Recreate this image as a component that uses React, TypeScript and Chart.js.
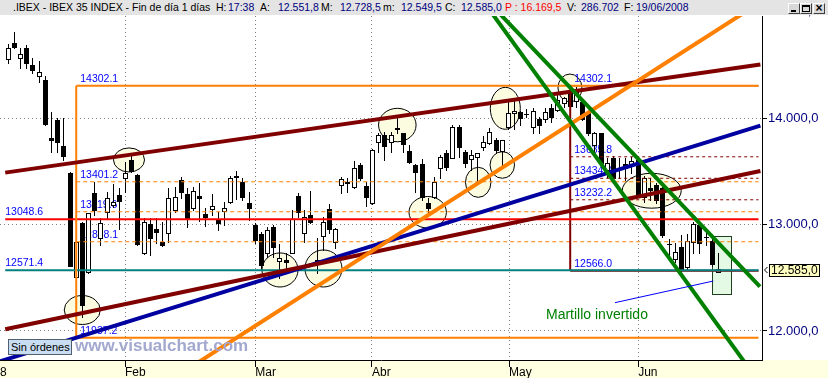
import React, { useEffect, useRef } from 'react';
import { Chart, registerables } from 'chart.js';

Chart.register(...registerables);

// ---------- daily candles (index 0 = first session shown, Jan 2008) ----------
const opens = [
  14551, 14707, 14566, 14660, 14498, 14394, 14357, 13815, 13981, 13740,
  13481, 12504, 13017, 12551, 13293, 12876, 13115, 13183, 13277, 13439,
  13606, 13465, 12730, 13002, 12958, 12833, 12917, 13136, 13418, 13284,
  13152, 13268, 13096, 13143, 13052, 13130, 13214, 13449, 13402, 13199,
  12995, 12911, 12730, 12979, 12660, 12667, 12735, 13268, 12917, 13089,
  12667, 12892, 13145, 12838, 13371, 13387, 13349, 13559, 13361, 13199,
  13777, 13840, 13777, 13906, 13856, 13690, 13559, 13565, 13205, 13261,
  13528, 13674, 13627, 13918, 13684, 13612, 13631, 13725, 13762, 13793,
  13693, 13913, 14044, 14059, 14038, 13915, 13992, 13991, 14097, 14075,
  14138, 14263, 14162, 14153, 14050, 13746, 13856, 13512, 13629, 13531,
  13565, 13565, 13610, 13261, 13343, 13371, 13340, 12819, 12679, 12784,
  12601, 12838, 12995, 12884, 12842, 12551.8,
];
const highs = [
  14692, 14805, 14657, 14683, 14561, 14535, 14394, 14059, 14003, 14003,
  13496, 12908, 13026, 13110, 13402, 13064, 13302, 13377, 13340, 13590,
  13659, 13470, 13064, 13064, 13058, 13026, 13340, 13355, 13449, 13340,
  13355, 13392, 13152, 13286, 13120, 13214, 13455, 13502, 13434, 13308,
  13011, 12932, 12979, 12995, 12817, 12730, 13136, 13293, 13136, 13317,
  12876, 13073, 13192, 12964, 13449, 13434, 13596, 13575, 13402, 13709,
  13856, 13871, 13871, 14019, 13859, 13746, 13568, 13612, 13246, 13443,
  13653, 13700, 13934, 13934, 13700, 13700, 13671, 13831, 13903, 13809,
  13798, 14164, 14164, 14069, 14082, 14091, 14012, 14091, 14131, 14232,
  14200, 14302.1, 14294, 14162, 14059, 13871, 13862, 13622, 13643, 13624,
  13622, 13631, 13622, 13455, 13434, 13392, 13371, 12868, 12823, 12901,
  12911, 13026, 13026, 12917, 12870, 12728.5,
];
const lows = [
  14519, 14657, 14467, 14472, 14420, 14341, 13934, 13684, 13684, 13606,
  12610, 11937.2, 12134, 12545, 13089, 12807, 13058, 13167, 12958, 13308,
  13490, 12805, 12720, 12714, 12823, 12800, 12838, 13120, 13246, 12979,
  13136, 13036, 12986, 13089, 12948, 12995, 13199, 13237, 13230, 13042,
  12823, 12579, 12698, 12698, 12495, 12573, 12730, 13073, 12838, 13015,
  12542, 12761, 12917, 12782, 13299, 13308, 13340, 13418, 13174, 13192,
  13684, 13606, 13684, 13856, 13684, 13575, 13308, 13230, 13105, 13246,
  13434, 13512, 13622, 13637, 13543, 13512, 13402, 13700, 13756, 13669,
  13559, 13894, 13897, 13934, 14007, 13859, 13859, 13965, 13965, 14066,
  14106, 14091, 14100, 13981, 13840, 13669, 13568, 13449, 13434, 13437,
  13418, 13484, 13277, 13214, 13230, 13205, 12885, 12690, 12651, 12568,
  12579, 12730, 12735, 12807, 12610, 12549.5,
];
const closes = [
  14660, 14664, 14598, 14519, 14451, 14435, 13941, 13793, 13772, 13646,
  12613, 12833, 12244, 13105, 13136, 13017, 13246, 13214, 13223, 13486,
  13502, 12814, 13026, 12876, 12927, 12807, 13246, 13261, 13308, 13064,
  13315, 13252, 13073, 13174, 13011, 13152, 13434, 13455, 13261, 13158,
  12854, 12620, 12948, 12791, 12683, 12645, 13049, 13120, 13068, 13021,
  12645, 13026, 12955, 12955, 13427, 13402, 13533, 13434, 13261, 13700,
  13840, 13737, 13840, 13901, 13756, 13590, 13496, 13261, 13152, 13402,
  13631, 13543, 13918, 13731, 13580, 13653, 13669, 13772, 13871, 13700,
  13793, 14050, 14070, 14000, 14033, 14069, 13934, 14056, 14009, 14169,
  14185, 14113, 14247, 13988, 13856, 13856, 13575, 13575, 13437, 13526,
  13531, 13596, 13286, 13434, 13324, 13230, 12901, 12814, 12745, 12582,
  12848, 13000, 12823, 12881, 12626, 12585.0,
];

// ---------- axes ----------
const xMin = -1.344;
const xMax = 122.06;
const yMin = 11727.6;
const yMax = 14957.8;
const monthTickIndex = [-1.344, 18.9, 40, 58.9, 81.1, 102];
const monthTickLabels = ['8', 'Feb', 'Mar', 'Abr', 'May', 'Jun'];
const yTickValues = [12000, 13000, 14000];
const hiddenTopTick = 15000;

// ---------- horizontal levels ----------
const levelEnd = 121.5;
const fibOneStart = 11;
const fibOneLevels = [14302.1, 13401.2, 13119.6, 12838.1, 11937.2];
const fibOneLabels = ['14302.1', '13401.2', '13119.6', '12838.1', '11937.2'];
const fibTwoStart = 91;
const fibTwoLevels = [14302.1, 13635.8, 13434.0, 13232.2, 12566.0];
const fibTwoLabels = ['14302.1', '13635.8', '13434.0', '13232.2', '12566.0'];
const supportStart = -0.5;
const supportLevels = [13048.6, 12571.4];
const supportLabels = ['13048.6', '12571.4'];

// ---------- trend lines: [idx1, val1, idx2, val2, fromIdx, toIdx] ----------
const blueTrend = [11, 11937.2, 116.87, 13840, -1.5, 121.8];
const brownLowerTrend = [-0.5, 12016, 122, 13504, -0.5, 121.8];
const brownUpperTrend = [-0.5, 13487, 122, 14505, -0.5, 121.8];
const orangeTrend = [44, 12197, 118.34, 14958, 30, 121.8];
const greenTrendA = [78.65, 14958, 118.98, 11728, 70, 121.8];
const greenTrendB = [79.79, 14967, 121.73, 12416, 70, 121.73];
const pointerLine = [98.25, 12266, 114.17, 12469];

// ---------- circled zones ----------
const ellipseIdx = [19.55, 11.98, 44.0, 51.04, 63.0, 67.92, 76.1, 80.0, 80.49, 90.96, 104.2];
const ellipseVal = [13606, 12197, 12573, 12587, 13934, 13115, 13396, 13559, 14091, 14282, 13317];
const ellipseRadIdx = [2.51, 2.92, 2.92, 3.0, 3.04, 3.03, 2.06, 1.98, 2.43, 1.94, 4.78];
const ellipseRadVal = [113, 136, 160, 174, 157, 148, 141, 125, 197, 131, 164];

// ---------- pattern box + note ----------
const boxIdx = [114.0, 117.0];
const boxVal = [12347, 12892];
const noteText = 'Martillo invertido';
const noteIdx = 87.08;
const noteVal = 12117;

const ORANGE = '#ff8000';
const BROWN = '#800000';
const NAVY = '#000080';
const FONT = '"Liberation Sans", Arial, sans-serif';

function fmtEs(v: number): string {
  const fixed = Math.abs(v).toFixed(1);
  const [ip, dp] = fixed.split('.');
  return (v < 0 ? '-' : '') + ip.replace(/\B(?=(\d{3})+(?!\d))/g, '.') + ',' + dp;
}

const seg = (x1: number, y1: number, x2: number, y2: number) => [
  { x: x1, y: y1 },
  { x: x2, y: y2 },
];
const trendSeg = (t: number[]) => {
  const [i1, v1, i2, v2, from, to] = t;
  const k = (v2 - v1) / (i2 - i1);
  return seg(from, v1 + k * (from - i1), to, v1 + k * (to - i1));
};
const lineDs = (data: any[], color: string, width: number, dash: number[] = []) => ({
  type: 'line' as const,
  data,
  borderColor: color,
  borderWidth: width,
  borderDash: dash,
  pointRadius: 0,
  fill: false,
  tension: 0,
  clip: 0,
  borderCapStyle: 'butt' as const,
});

function buildDatasets() {
  const list: any[] = [];
  for (let k = 1; k <= 3; k++)
    list.push(lineDs(seg(fibOneStart, fibOneLevels[k], levelEnd, fibOneLevels[k]), ORANGE, 1, [4, 3]));
  for (let k = 1; k <= 3; k++)
    list.push(lineDs(seg(fibTwoStart, fibTwoLevels[k], levelEnd, fibTwoLevels[k]), BROWN, 1, [3, 3]));
  list.push(lineDs(seg(fibTwoStart, fibTwoLevels[0], levelEnd, fibTwoLevels[0]), BROWN, 1));
  list.push(lineDs(seg(fibTwoStart, fibTwoLevels[4], levelEnd, fibTwoLevels[4]), BROWN, 2));
  list.push(lineDs(seg(fibTwoStart, fibTwoLevels[4], fibTwoStart, fibTwoLevels[0]), BROWN, 2));
  list.push(lineDs(seg(supportStart, supportLevels[0], levelEnd, supportLevels[0]), '#ff0000', 2));
  list.push(lineDs(seg(supportStart, supportLevels[1], levelEnd, supportLevels[1]), '#008080', 2));
  list.push(lineDs(seg(fibOneStart, fibOneLevels[0], levelEnd, fibOneLevels[0]), ORANGE, 2));
  list.push(lineDs(seg(fibOneStart, fibOneLevels[4], levelEnd, fibOneLevels[4]), ORANGE, 2));
  list.push(lineDs(seg(fibOneStart, fibOneLevels[4], fibOneStart, fibOneLevels[0]), ORANGE, 2));
  list.push(lineDs(trendSeg(blueTrend), '#0000a0', 4));
  list.push(lineDs(trendSeg(brownLowerTrend), BROWN, 4));
  list.push(lineDs(trendSeg(brownUpperTrend), BROWN, 4));
  list.push(lineDs(trendSeg(orangeTrend), ORANGE, 4));
  list.push(lineDs(trendSeg(greenTrendA), '#008000', 4));
  list.push(lineDs(trendSeg(greenTrendB), '#008000', 4));
  list.push(lineDs(seg(pointerLine[0], pointerLine[1], pointerLine[2], pointerLine[3]), '#0000ff', 1));
  // list is bottom -> top; higher order is drawn first
  return list.map((d, i) => ({ ...d, order: list.length - i }));
}

const annotationPlugin = {
  id: 'ibexAnnotations',
  beforeDraw(chart: any) {
    const { ctx, width, height, chartArea } = chart;
    ctx.save();
    ctx.fillStyle = '#ffffff';
    ctx.fillRect(0, 0, width, height);
    ctx.fillStyle = '#ffffe1';
    ctx.fillRect(0, chartArea.bottom, width, height - chartArea.bottom);
    ctx.restore();
  },
  beforeDatasetsDraw(chart: any) {
    const { ctx, chartArea: a } = chart;
    const xs = chart.scales.x;
    const ys = chart.scales.y;
    const px = (v: number) => xs.getPixelForValue(v);
    const py = (v: number) => ys.getPixelForValue(v);
    ctx.save();
    ctx.beginPath();
    ctx.rect(a.left, a.top, a.right - a.left, a.bottom - a.top);
    ctx.clip();

    // circled zones
    ctx.lineWidth = 1;
    for (let k = 0; k < ellipseIdx.length; k++) {
      const cx = px(ellipseIdx[k]);
      const cy = py(ellipseVal[k]);
      const rx = px(ellipseIdx[k] + ellipseRadIdx[k]) - cx;
      const ry = cy - py(ellipseVal[k] + ellipseRadVal[k]);
      ctx.beginPath();
      ctx.ellipse(cx, cy, rx, ry, 0, 0, Math.PI * 2);
      ctx.fillStyle = '#fcfce0';
      ctx.fill();
      ctx.strokeStyle = '#000';
      ctx.stroke();
    }

    // pattern box
    {
      const x1 = Math.round(px(boxIdx[0]));
      const x2 = Math.round(px(boxIdx[1]));
      const y1 = Math.round(py(boxVal[1]));
      const y2 = Math.round(py(boxVal[0]));
      ctx.fillStyle = '#e4fae4';
      ctx.fillRect(x1, y1, x2 - x1, y2 - y1);
      ctx.strokeStyle = '#204020';
      ctx.strokeRect(x1 + 0.5, y1 + 0.5, x2 - x1, y2 - y1);
    }

    // level labels
    ctx.font = '10.5px ' + FONT;
    ctx.fillStyle = '#0000ff';
    ctx.textBaseline = 'alphabetic';
    ctx.textAlign = 'left';
    const drawLabels = (start: number, vals: number[], labels: string[], dx: number) => {
      for (let k = 0; k < vals.length; k++) ctx.fillText(labels[k], px(start) + dx, py(vals[k]) - 4);
    };
    drawLabels(fibOneStart, fibOneLevels, fibOneLabels, 4);
    drawLabels(fibTwoStart, fibTwoLevels, fibTwoLabels, 4);
    drawLabels(supportStart, supportLevels, supportLabels, 0);

    // candles
    for (let i = 0; i < opens.length; i++) {
      const o = opens[i];
      const c = closes[i];
      const col = Math.floor(px(i));
      const yh = Math.round(py(highs[i]));
      const yl = Math.round(py(lows[i]));
      const yt = Math.round(py(Math.max(o, c)));
      const yb = Math.round(py(Math.min(o, c)));
      ctx.fillStyle = '#000';
      ctx.fillRect(col, yh, 1, Math.max(1, yl - yh + 1));
      if (yb - yt <= 1) {
        ctx.fillRect(col - 2, yt, 5, yb - yt + 1);
      } else if (c > o) {
        ctx.fillStyle = '#fff';
        ctx.fillRect(col - 2, yt, 5, yb - yt + 1);
        ctx.strokeStyle = '#000';
        ctx.lineWidth = 1;
        ctx.strokeRect(col - 1.5, yt + 0.5, 4, yb - yt);
      } else {
        ctx.fillRect(col - 2, yt, 5, yb - yt + 1);
      }
    }
    ctx.restore();
  },
  afterDatasetsDraw(chart: any) {
    const { ctx } = chart;
    const xs = chart.scales.x;
    const ys = chart.scales.y;
    ctx.save();
    ctx.font = '14px ' + FONT;
    ctx.fillStyle = '#008000';
    ctx.textBaseline = 'alphabetic';
    ctx.textAlign = 'left';
    ctx.fillText(noteText, xs.getPixelForValue(noteIdx), ys.getPixelForValue(noteVal));
    ctx.restore();
  },
  afterDraw(chart: any) {
    const { ctx, chartArea } = chart;
    const ys = chart.scales.y;
    ctx.save();
    // partially hidden top tick label
    ctx.font = '13px ' + FONT;
    ctx.fillStyle = NAVY;
    ctx.textBaseline = 'middle';
    ctx.textAlign = 'left';
    ctx.fillText(fmtEs(hiddenTopTick), chartArea.right + 6, ys.getPixelForValue(hiddenTopTick));
    // last price marker
    const last = closes[closes.length - 1];
    const cy = Math.round(ys.getPixelForValue(last)) + 1;
    const bx = chartArea.right + 7;
    ctx.fillStyle = '#ffffc0';
    ctx.fillRect(bx, cy - 6, 51, 13);
    ctx.strokeStyle = '#000';
    ctx.lineWidth = 1;
    ctx.strokeRect(bx + 0.5, cy - 6 + 0.5, 50, 12);
    ctx.beginPath();
    ctx.moveTo(chartArea.right + 5.5, cy - 3);
    ctx.lineTo(chartArea.right + 2.5, cy);
    ctx.lineTo(chartArea.right + 5.5, cy + 3);
    ctx.stroke();
    ctx.font = '12px ' + FONT;
    ctx.fillStyle = '#000';
    ctx.fillText(fmtEs(last), bx + 2, cy + 0.5);
    ctx.restore();
  },
};

const titleParts: { x: number; t: string; c: string }[] = [
  { x: 13, t: '.IBEX - IBEX 35 INDEX - Fin de día 1 días', c: '#000' },
  { x: 216, t: 'H:', c: '#000' },
  { x: 228, t: '17:38', c: NAVY },
  { x: 260, t: 'A:', c: '#000' },
  { x: 278, t: '12.551,8', c: NAVY },
  { x: 321, t: 'M:', c: '#000' },
  { x: 340, t: '12.728,5', c: NAVY },
  { x: 383, t: 'm:', c: '#000' },
  { x: 401, t: '12.549,5', c: NAVY },
  { x: 445, t: 'C:', c: '#000' },
  { x: 461, t: '12.585,0', c: NAVY },
  { x: 505, t: 'P : 16.169,5', c: '#ff0000' },
  { x: 567, t: 'V:', c: '#000' },
  { x: 581, t: '286.702', c: NAVY },
  { x: 624, t: 'F:', c: '#000' },
  { x: 636, t: '19/06/2008', c: NAVY },
];

const btnStyle = (left: number): React.CSSProperties => ({
  position: 'absolute',
  left,
  top: 3,
  width: 12,
  height: 11,
  boxSizing: 'border-box',
  background: '#d8d8d8',
  borderTop: '1px solid #ffffff',
  borderLeft: '1px solid #ffffff',
  borderRight: '1px solid #404040',
  borderBottom: '1px solid #404040',
});

export default function App() {
  const ref = useRef<HTMLCanvasElement | null>(null);

  useEffect(() => {
    const canvas = ref.current;
    if (!canvas) return;
    const chart = new Chart(canvas, {
      type: 'line',
      data: { datasets: buildDatasets() },
      options: {
        responsive: false,
        animation: false,
        devicePixelRatio: 1,
        events: [],
        layout: { padding: { top: 16, left: 0, right: 0, bottom: 0 } },
        plugins: {
          legend: { display: false },
          tooltip: { enabled: false },
          title: { display: false },
        },
        scales: {
          x: {
            type: 'linear',
            min: xMin,
            max: xMax,
            bounds: 'data',
            offset: false,
            afterBuildTicks: (s: any) => {
              s.ticks = monthTickIndex.map((v) => ({ value: v }));
            },
            afterFit: (s: any) => {
              s.height = 18;
            },
            ticks: {
              callback: (_v: any, i: number) => monthTickLabels[i],
              align: 'start',
              maxRotation: 0,
              minRotation: 0,
              autoSkip: false,
              color: '#000',
              padding: -2,
              font: { family: FONT, size: 12 },
            },
            grid: {
              color: (c: any) => (c.tick && c.tick.value < 0 ? 'rgba(0,0,0,0)' : '#808080'),
              tickColor: (c: any) => (c.tick && c.tick.value < 0 ? 'rgba(0,0,0,0)' : '#000'),
              lineWidth: 1,
              tickLength: 7,
              tickBorderDash: [],
              drawTicks: true,
            },
            border: { display: true, color: '#000', width: 1, dash: [1, 3] },
          } as any,
          y: {
            type: 'linear',
            position: 'right',
            min: yMin,
            max: yMax,
            bounds: 'data',
            afterBuildTicks: (s: any) => {
              s.ticks = yTickValues.map((v) => ({ value: v }));
            },
            afterFit: (s: any) => {
              s.width = 66;
            },
            ticks: {
              callback: (v: any) => fmtEs(Number(v)),
              color: NAVY,
              padding: 1,
              font: { family: FONT, size: 13 },
            },
            grid: {
              color: '#808080',
              lineWidth: 1,
              tickColor: '#000',
              tickLength: 5,
              tickBorderDash: [],
            },
            border: { display: true, color: '#000', width: 1, dash: [1, 3] },
          } as any,
        },
      },
      plugins: [annotationPlugin],
    });
    return () => chart.destroy();
  }, []);

  return (
    <div
      style={{
        position: 'fixed',
        left: 0,
        top: 0,
        width: 828,
        height: 378,
        overflow: 'hidden',
        background: '#fff',
        fontFamily: FONT,
      }}
    >
      <canvas
        ref={ref}
        width={828}
        height={378}
        style={{ position: 'absolute', left: 0, top: 0, width: 828, height: 378 }}
      />
      <div
        style={{
          position: 'absolute',
          left: 0,
          top: 0,
          width: 828,
          height: 15,
          background: '#e4e4e4',
          fontSize: '10.5px',
          lineHeight: '15px',
          whiteSpace: 'nowrap',
        }}
      >
        {titleParts.map((p, i) => (
          <span key={i} style={{ position: 'absolute', left: p.x, top: 0, color: p.c }}>
            {p.t}
          </span>
        ))}
        <div style={btnStyle(788)}>
          <div style={{ position: 'absolute', left: 2, top: 6, width: 5, height: 2, background: '#000' }} />
        </div>
        <div style={btnStyle(800)}>
          <div
            style={{
              position: 'absolute',
              left: 1,
              top: 1,
              width: 8,
              height: 7,
              boxSizing: 'border-box',
              border: '1px solid #000',
              borderTop: '2px solid #000',
            }}
          />
        </div>
        <div style={btnStyle(813)}>
          <div
            style={{
              position: 'absolute',
              left: 0,
              top: -3,
              width: 10,
              textAlign: 'center',
              fontSize: '12px',
              fontWeight: 'bold',
              lineHeight: '14px',
              color: '#000',
            }}
          >
            ×
          </div>
        </div>
      </div>
      <div
        style={{
          position: 'absolute',
          left: 8,
          top: 339,
          width: 64,
          height: 16,
          boxSizing: 'border-box',
          background: '#c8dcf2',
          border: '1px solid #506070',
          fontSize: '11px',
          lineHeight: '14px',
          paddingLeft: 2,
          color: '#000',
          whiteSpace: 'nowrap',
        }}
      >
        Sin órdenes
      </div>
      <div
        style={{
          position: 'absolute',
          left: 75,
          top: 337,
          fontSize: '17px',
          fontWeight: 'bold',
          lineHeight: '17px',
          color: '#a3a8cf',
          whiteSpace: 'nowrap',
        }}
      >
        www.visualchart.com
      </div>
    </div>
  );
}
